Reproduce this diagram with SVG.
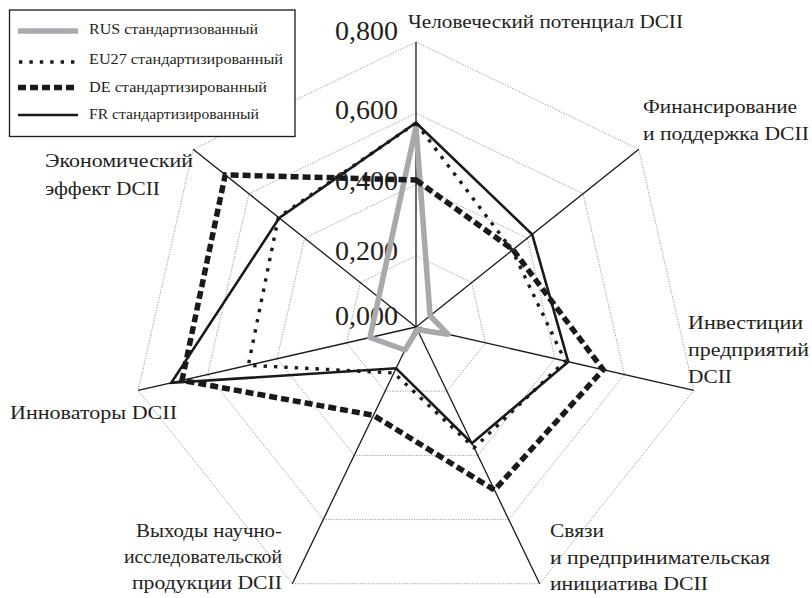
<svg xmlns="http://www.w3.org/2000/svg" width="812" height="598" viewBox="0 0 812 598">
<style>
.grid{fill:none;stroke:#9a9a9a;stroke-width:1;stroke-dasharray:1.2 1.4}
.axis{stroke:#1a1a1a;stroke-width:1.3}
.lbl{font-family:"Liberation Serif","DejaVu Serif",serif;font-size:19px;fill:#231f20}
.val{font-family:"Liberation Serif","DejaVu Serif",serif;font-size:28px;fill:#231f20;text-anchor:end}
.leg{font-family:"Liberation Serif","DejaVu Serif",serif;font-size:15px;fill:#231f20}
.rus{fill:none;stroke:#a7a9ac;stroke-width:5.5;stroke-linejoin:round}
.eu{fill:none;stroke:#1a1a1a;stroke-width:3.4;stroke-dasharray:3.4 7}
.de{fill:none;stroke:#1a1a1a;stroke-width:5.5;stroke-dasharray:8 4}
.fr{fill:none;stroke:#1a1a1a;stroke-width:2.6;stroke-linejoin:miter}
</style>
<rect width="812" height="598" fill="#fff"/>
<g id="grid">
<polygon class="grid" points="416,42 638.82,149.31 693.86,390.42 539.66,583.78 292.34,583.78 138.14,390.42 193.18,149.31"/>
<polygon class="grid" points="416,113.25 583.12,193.73 624.39,374.56 508.74,519.58 323.26,519.58 207.61,374.56 248.88,193.73"/>
<polygon class="grid" points="416,184.5 527.41,238.15 554.93,358.71 477.83,455.39 354.17,455.39 277.07,358.71 304.59,238.15"/>
<polygon class="grid" points="416,255.75 471.71,282.58 485.46,342.85 446.91,391.19 385.09,391.19 346.54,342.85 360.29,282.58"/>
</g>
<g id="axes">
<line class="axis" x1="416" y1="327" x2="416" y2="42"/>
<line class="axis" x1="416" y1="327" x2="638.82" y2="149.31"/>
<line class="axis" x1="416" y1="327" x2="693.86" y2="390.42"/>
<line class="axis" x1="416" y1="327" x2="539.66" y2="583.78"/>
<line class="axis" x1="416" y1="327" x2="292.34" y2="583.78"/>
<line class="axis" x1="416" y1="327" x2="138.14" y2="390.42"/>
<line class="axis" x1="416" y1="327" x2="193.18" y2="149.31"/>
</g>
<g id="scale">
<text class="val" x="398" y="40">0,800</text>
<text class="val" x="398" y="119">0,600</text>
<text class="val" x="398" y="190">0,400</text>
<text class="val" x="398" y="260">0,200</text>
<text class="val" x="398" y="325">0,000</text>
</g>
<g id="connectors">
<path id="series-rus" class="rus" d="M416,127 L430.07,315.78 L448.17,334.34 L417.3,329.7 L404.94,349.97 L369.98,337.5 Z"/>
<polygon id="series-eu27" class="eu" points="416,123 512.2,250.3 565.16,361.04 474.14,447.73 393.87,372.95 248.31,365.27 278.4,217.27"/>
<polygon id="series-de" class="de" points="416,180 512.95,249.69 603.19,369.72 494.53,490.08 373.48,415.3 182.02,380.4 225.23,174.87"/>
<polygon id="series-fr" class="fr" points="416,122.7 532.18,234.35 568.28,361.76 471.97,443.23 396.13,368.26 171.29,382.85 279.26,217.95"/>
</g>
<g id="node-human"><text class="lbl" x="408" y="28" textLength="275" lengthAdjust="spacingAndGlyphs">Человеческий потенциал DCII</text></g>
<g id="node-finance"><text class="lbl" x="643" y="113" textLength="154" lengthAdjust="spacingAndGlyphs">Финансирование</text><text class="lbl" x="643" y="140" textLength="166" lengthAdjust="spacingAndGlyphs">и поддержка DCII</text></g>
<g id="node-invest"><text class="lbl" x="688" y="329" textLength="115" lengthAdjust="spacingAndGlyphs">Инвестиции</text><text class="lbl" x="688" y="356" textLength="121" lengthAdjust="spacingAndGlyphs">предприятий</text><text class="lbl" x="688" y="383" textLength="44" lengthAdjust="spacingAndGlyphs">DCII</text></g>
<g id="node-links"><text class="lbl" x="550" y="537" textLength="54" lengthAdjust="spacingAndGlyphs">Связи</text><text class="lbl" x="550" y="564" textLength="220" lengthAdjust="spacingAndGlyphs">и предпринимательская</text><text class="lbl" x="550" y="590" textLength="158" lengthAdjust="spacingAndGlyphs">инициатива DCII</text></g>
<g id="node-outputs"><text class="lbl" x="282" y="537" text-anchor="end" textLength="146" lengthAdjust="spacingAndGlyphs">Выходы научно-</text><text class="lbl" x="282" y="563" text-anchor="end" textLength="158" lengthAdjust="spacingAndGlyphs">исследовательской</text><text class="lbl" x="282" y="589" text-anchor="end" textLength="150" lengthAdjust="spacingAndGlyphs">продукции DCII</text></g>
<g id="node-innovators"><text class="lbl" x="10" y="419" textLength="167" lengthAdjust="spacingAndGlyphs">Инноваторы DCII</text></g>
<g id="node-economic"><text class="lbl" x="45" y="167" textLength="148" lengthAdjust="spacingAndGlyphs">Экономический</text><text class="lbl" x="45" y="195" textLength="115" lengthAdjust="spacingAndGlyphs">эффект DCII</text></g>
<g id="legend">
<rect x="9.5" y="10" width="285.5" height="126.5" fill="#fff" stroke="#1a1a1a" stroke-width="1.3"/>
<line class="rus" x1="18" y1="31" x2="78" y2="31"/>
<line class="eu" x1="19" y1="62" x2="80" y2="62"/>
<line class="de" x1="18" y1="87.5" x2="78" y2="87.5"/>
<line class="fr" x1="18" y1="115" x2="78" y2="115"/>
<text class="leg" x="89" y="34" textLength="169" lengthAdjust="spacingAndGlyphs">RUS стандартизованный</text>
<text class="leg" x="89" y="64" textLength="194" lengthAdjust="spacingAndGlyphs">EU27 стандартизированный</text>
<text class="leg" x="89" y="92" textLength="178" lengthAdjust="spacingAndGlyphs">DE стандартизированный</text>
<text class="leg" x="89" y="119" textLength="170" lengthAdjust="spacingAndGlyphs">FR стандартизированный</text>
</g>
</svg>
